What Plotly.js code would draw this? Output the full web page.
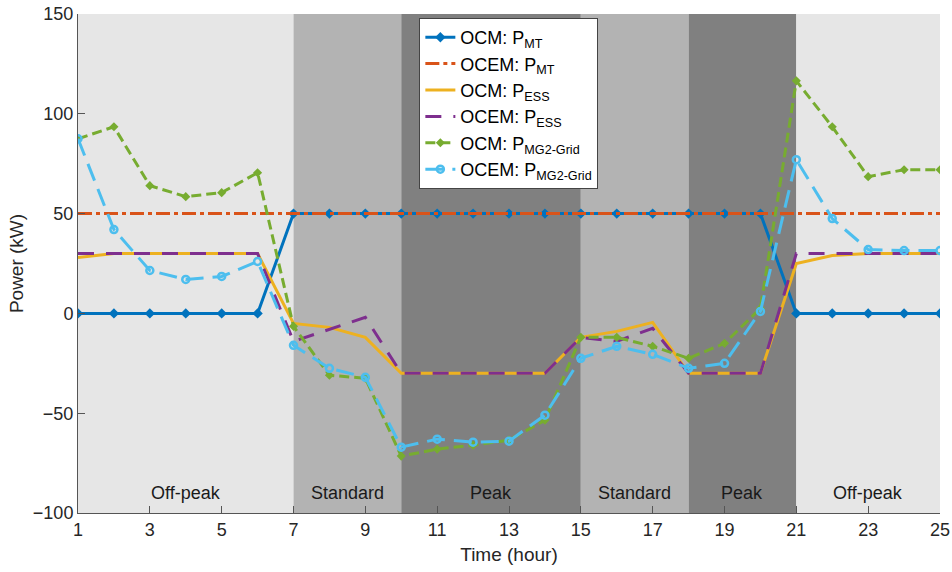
<!DOCTYPE html>
<html>
<head>
<meta charset="utf-8">
<script src="https://cdn.plot.ly/plotly-3.0.1.min.js"></script>
<style>html,body{margin:0;padding:0;background:#fff;}#chart{width:952px;height:572px;}</style>
</head>
<body>
<div id="chart"></div>
<script>
const hours = [1,2,3,4,5,6,7,8,9,10,11,12,13,14,15,16,17,18,19,20,21,22,23,24,25];
const ocmMT   = [0,0,0,0,0,0,50,50,50,50,50,50,50,50,50,50,50,50,50,50,0,0,0,0,0];
const ocemMT  = [50,50,50,50,50,50,50,50,50,50,50,50,50,50,50,50,50,50,50,50,50,50,50,50,50];
const ocmESS  = [28,30,30,30,30,30,-5,-7,-12,-30,-30,-30,-30,-30,-12,-9,-4.5,-30,-30,-30,25,29,30,30,30];
const ocemESS = [30,30,30,30,30,30,-14,-8,-2,-30,-30,-30,-30,-30,-12,-14,-7.5,-30,-30,-30,30,30,30,30,30];
const ocmGrid = [87.5,93.5,64,58.5,60.5,70.5,-6.5,-31,-32.5,-71.5,-68,-66,-63.5,-53.5,-12,-12,-16.5,-22.5,-15,2.5,116.5,93.5,68.5,72,72];
const ocemGrid= [87.5,42,21.5,17,18.5,26,-16,-27.5,-32,-67,-63,-64.5,-64,-51,-22.5,-16.5,-20.5,-27.5,-25,1,77,47.5,32,31.5,31.5];

const periodStart = [1,7,10,15,18,21];
const periodEnd   = [7,10,15,18,21,25];
const periodLabel = ['Off-peak','Standard','Peak','Standard','Peak','Off-peak'];
const periodColor = ['#e6e6e6','#b3b3b3','#808080','#b3b3b3','#808080','#e6e6e6'];
const labelY = -90;

const traces = [
  {x:hours,y:ocmMT,name:'OCM: P<sub>MT</sub>',mode:'lines+markers',
   line:{color:'#0072BD',width:3},marker:{symbol:'diamond',size:8,color:'#0072BD'}},
  {x:hours,y:ocemMT,name:'OCEM: P<sub>MT</sub>',mode:'lines',
   line:{color:'#D95319',width:3,dash:'14px,4px,4px,4px'}},
  {x:hours,y:ocmESS,name:'OCM: P<sub>ESS</sub>',mode:'lines',
   line:{color:'#EDB120',width:3}},
  {x:hours,y:ocemESS,name:'OCEM: P<sub>ESS</sub>',mode:'lines',
   line:{color:'#7E2F8E',width:3,dash:'16px,12px'}},
  {x:hours,y:ocmGrid,name:'OCM: P<sub>MG2-Grid</sub>',mode:'lines+markers',
   line:{color:'#77AC30',width:3,dash:'10px,5px'},marker:{symbol:'diamond',size:7,color:'#77AC30'}},
  {x:hours,y:ocemGrid,name:'OCEM: P<sub>MG2-Grid</sub>',mode:'lines+markers',
   line:{color:'#4DBEEE',width:3,dash:'18px,9px'},
   marker:{symbol:'circle-open',size:7,color:'#4DBEEE',line:{width:2.5,color:'#4DBEEE'}}}
];

const shapes = periodStart.map((s,i)=>({type:'rect',xref:'x',yref:'paper',x0:s,x1:periodEnd[i],y0:0,y1:1,
  fillcolor:periodColor[i],line:{width:0},layer:'below'}));
const annotations = periodLabel.map((t,i)=>({x:(periodStart[i]+periodEnd[i])/2,y:labelY,xref:'x',yref:'y',
  text:t,showarrow:false,font:{family:'Liberation Sans, Arial, sans-serif',size:18,color:'#1a1a1a'}}));

const layout = {
  width:952,height:572,
  margin:{l:78,r:12,t:14,b:59},
  paper_bgcolor:'#fff',plot_bgcolor:'#fff',
  font:{family:'Liberation Sans, Arial, sans-serif',size:18,color:'#262626'},
  showlegend:true,
  legend:{x:0.396,y:0.992,xanchor:'left',yanchor:'top',bgcolor:'#fff',bordercolor:'#444',borderwidth:1,
    font:{size:18,color:'#000'},tracegroupgap:0,itemwidth:30},
  xaxis:{range:[1,25],tickvals:[1,3,5,7,9,11,13,15,17,19,21,23,25],ticks:'inside',ticklen:7,tickcolor:'#555',
    showgrid:false,zeroline:false,showline:true,linecolor:'#555',linewidth:1,
    tickfont:{size:18,color:'#262626'},
    title:{text:'Time (hour)',font:{size:19,color:'#262626'},standoff:9}},
  yaxis:{range:[-100,150],tickvals:[-100,-50,0,50,100,150],ticks:'inside',ticklen:7,tickcolor:'#555',
    showgrid:false,zeroline:false,showline:true,linecolor:'#555',linewidth:1,
    tickfont:{size:18,color:'#262626'},
    title:{text:'Power (kW)',font:{size:19,color:'#262626'},standoff:4}},
  shapes:shapes,annotations:annotations
};
Plotly.newPlot('chart',traces,layout,{displayModeBar:false,staticPlot:true});
</script>
</body>
</html>
